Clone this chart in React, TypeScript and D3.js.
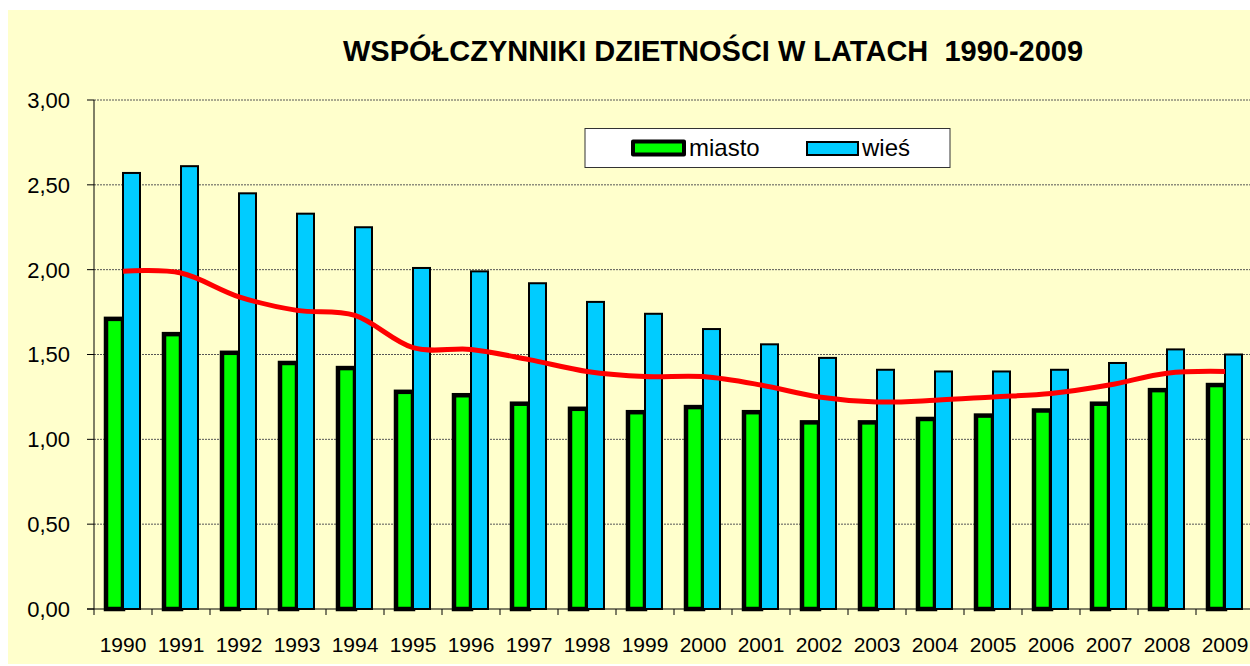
import React from "react";
import * as d3 from "d3";

const years = ["1990","1991","1992","1993","1994","1995","1996","1997","1998","1999","2000","2001","2002","2003","2004","2005","2006","2007","2008","2009"];
const miasto = [1.71,1.62,1.51,1.45,1.42,1.28,1.26,1.21,1.18,1.16,1.19,1.16,1.10,1.10,1.12,1.14,1.17,1.21,1.29,1.32];
const wies = [2.57,2.61,2.45,2.33,2.25,2.01,1.99,1.92,1.81,1.74,1.65,1.56,1.48,1.41,1.40,1.40,1.41,1.45,1.53,1.50];
const ogolem = [1.99,1.98,1.84,1.76,1.73,1.54,1.53,1.47,1.40,1.37,1.37,1.32,1.25,1.22,1.23,1.25,1.27,1.32,1.39,1.40];
const yTicks = [0, 0.5, 1.0, 1.5, 2.0, 2.5, 3.0];
const title = "WSPÓŁCZYNNIKI DZIETNOŚCI W LATACH  1990-2009";
const seriesNames = ["miasto", "wieś"];

const FONT = "'Liberation Sans', Arial, Helvetica, sans-serif";

export default function App() {
  const left = 94, right = 1254, top = 100, bottom = 609;
  const x = d3.scaleBand<string>().domain(years).range([left, right]).padding(0);
  const y = d3.scaleLinear().domain([0, 3]).range([bottom, top]);
  const bw = 17;
  const fmt = (v: number) => d3.format(".2f")(v).replace(".", ",");
  const line = d3
    .line<number>()
    .x((_, i) => (x(years[i]) as number) + x.bandwidth() / 2)
    .y((d) => y(d))
    .curve(d3.curveCardinal.tension(0));

  return (
    <div style={{ position: "absolute", left: 0, top: 0 }}>
      <svg width={1250} height={666} style={{ display: "block" }}>
        <rect x={0} y={0} width={1250} height={666} fill="#ffffff" />
        <rect x={8} y={10} width={1250} height={654} fill="#FFFFCC" />
        <text
          x={713}
          y={61}
          textAnchor="middle"
          fontFamily={FONT}
          fontWeight="bold"
          fontSize={29}
          fill="#000"
          style={{ whiteSpace: "pre" }}
        >
          {title}
        </text>
        {/* gridlines */}
        {yTicks.filter((t) => t > 0).map((t) => (
          <line
            key={"g" + t}
            x1={left}
            x2={1250}
            y1={y(t)}
            y2={y(t)}
            stroke="#555"
            strokeWidth={1}
            strokeDasharray="2,1"
          />
        ))}
        {/* y ticks & labels */}
        {yTicks.map((t) => (
          <g key={"yt" + t}>
            <line x1={left - 7} x2={left} y1={y(t)} y2={y(t)} stroke="#000" />
            <text
              x={70}
              y={y(t)}
              dy="0.36em"
              textAnchor="end"
              fontFamily={FONT}
              fontSize={22}
              fill="#000"
            >
              {fmt(t)}
            </text>
          </g>
        ))}
        {/* x ticks & labels */}
        {years.map((yr) => (
          <line
            key={"xt" + yr}
            x1={x(yr) as number}
            x2={x(yr) as number}
            y1={bottom}
            y2={bottom + 6}
            stroke="#000"
          />
        ))}
        {years.map((yr) => (
          <text
            key={"xl" + yr}
            x={(x(yr) as number) + x.bandwidth() / 2}
            y={652}
            textAnchor="middle"
            fontFamily={FONT}
            fontSize={21}
            fill="#000"
          >
            {yr}
          </text>
        ))}
        {/* bars */}
        {years.map((yr, i) => {
          const c = (x(yr) as number) + x.bandwidth() / 2;
          return (
            <g key={"b" + yr}>
              <rect
                x={c - bw}
                y={y(miasto[i])}
                width={bw}
                height={bottom - y(miasto[i])}
                fill="#00FF00"
                stroke="#000"
                strokeWidth={4.5}
              />
              <rect
                x={c}
                y={y(wies[i])}
                width={bw}
                height={bottom - y(wies[i])}
                fill="#00CCFF"
                stroke="#000"
                strokeWidth={2}
              />
            </g>
          );
        })}
        {/* axes */}
        <line x1={left} x2={left} y1={top} y2={bottom} stroke="#000" />
        <line x1={left - 7} x2={1250} y1={bottom} y2={bottom} stroke="#000" />
        {/* total line */}
        <path d={line(ogolem) || ""} fill="none" stroke="#FF0000" strokeWidth={5} strokeLinecap="butt" />
        {/* legend */}
        <rect x={585} y={128.5} width={365} height={39} fill="#fff" stroke="#333" strokeWidth={1} />
        <rect x={633} y={141.5} width={51} height={13} fill="#00FF00" stroke="#000" strokeWidth={4} strokeLinejoin="round" />
        <text x={689} y={156} fontFamily={FONT} fontSize={24} fill="#000">{seriesNames[0]}</text>
        <rect x={807} y={142} width={51} height={13} fill="#00CCFF" stroke="#000" strokeWidth={2} />
        <text x={862} y={156} fontFamily={FONT} fontSize={24} fill="#000">{seriesNames[1]}</text>
      </svg>
    </div>
  );
}
